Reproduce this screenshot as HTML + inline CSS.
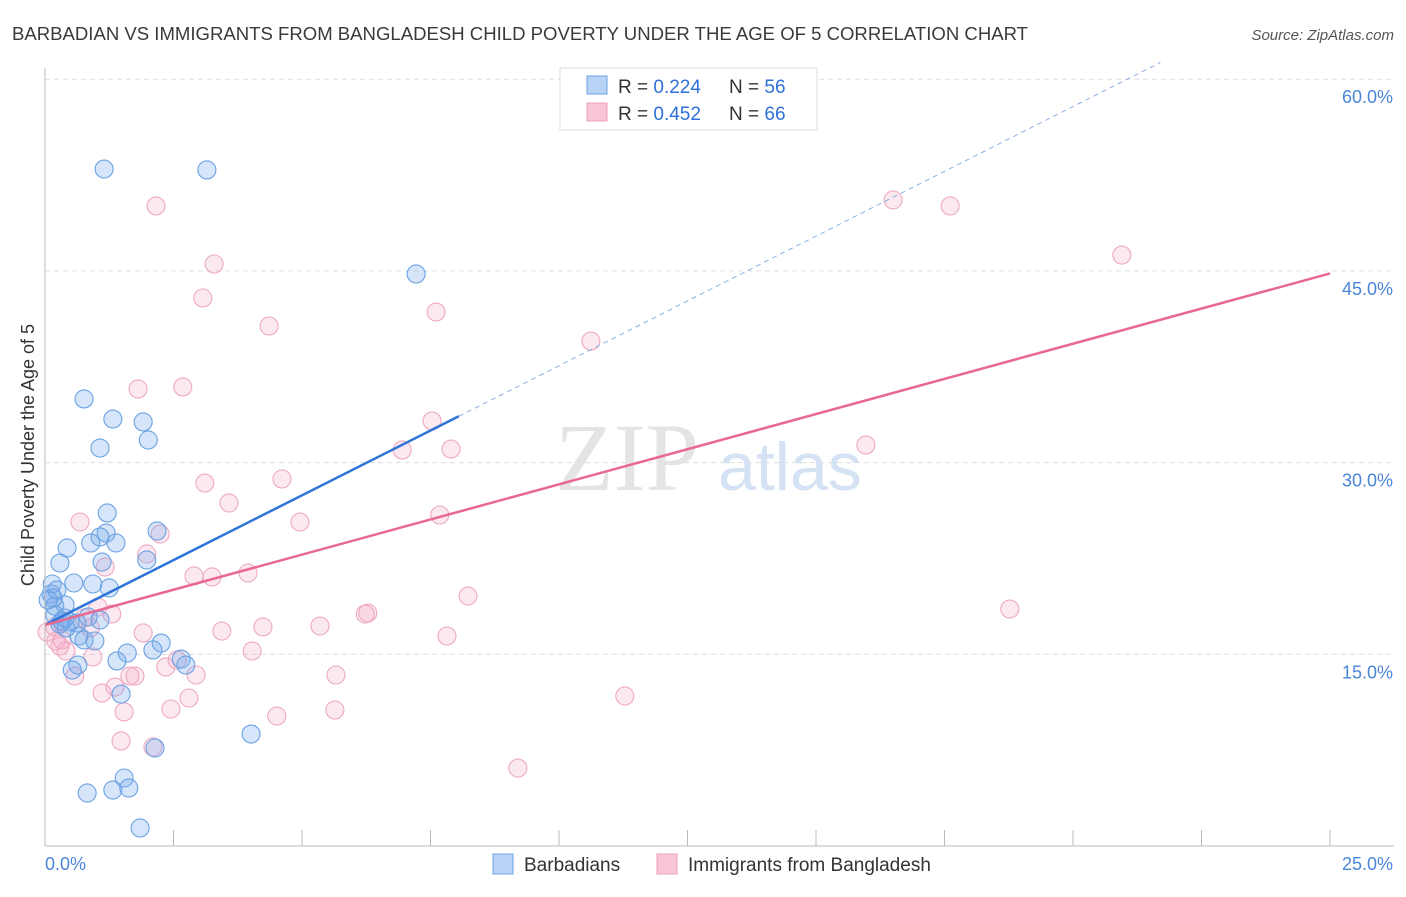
<!DOCTYPE html>
<html><head><meta charset="utf-8"><style>
body{margin:0;background:#fff;font-family:"Liberation Sans",sans-serif;}
</style></head><body>
<svg width="1406" height="892" xmlns="http://www.w3.org/2000/svg">
<text x="12" y="40" font-size="18" fill="#3a3a3a" textLength="1016" lengthAdjust="spacingAndGlyphs">BARBADIAN VS IMMIGRANTS FROM BANGLADESH CHILD POVERTY UNDER THE AGE OF 5 CORRELATION CHART</text>
<text x="1394" y="40" font-size="15" fill="#555" font-style="italic" text-anchor="end">Source: ZipAtlas.com</text>
<g id="grid"></g>
<text x="555" y="490" font-size="96" fill="#e4e4e4" font-family="Liberation Serif,serif">ZIP</text>
<text x="718" y="490" font-size="68" fill="#d4e2f4">atlas</text>
<g id="marks"></g>
<g id="axes"></g>
<text transform="translate(34,455) rotate(-90)" font-size="18" fill="#333" text-anchor="middle">Child Poverty Under the Age of 5</text>
<g>
<rect x="560" y="68" width="257" height="62" fill="#fff" stroke="#ddd"/>
<rect x="587" y="76" width="20" height="18" fill="#b8d3f5" stroke="#6aa3e6"/>
<rect x="587" y="103" width="20" height="18" fill="#f9c6d6" stroke="#eda3bb"/>
<text x="618" y="93" font-size="19" fill="#333">R = <tspan fill="#2f6fd8">0.224</tspan></text>
<text x="729" y="93" font-size="19" fill="#333">N = <tspan fill="#2f6fd8">56</tspan></text>
<text x="618" y="120" font-size="19" fill="#333">R = <tspan fill="#2f6fd8">0.452</tspan></text>
<text x="729" y="120" font-size="19" fill="#333">N = <tspan fill="#2f6fd8">66</tspan></text>
</g>
<g>
<rect x="493" y="854" width="20" height="20" fill="#b8d3f5" stroke="#6aa3e6"/>
<text x="524" y="871" font-size="19" fill="#333">Barbadians</text>
<rect x="657" y="854" width="20" height="20" fill="#f9c6d6" stroke="#eda3bb"/>
<text x="688" y="871" font-size="19" fill="#333">Immigrants from Bangladesh</text>
</g>
</svg>
<script>
const blueX=[1.15,3.15,7.22,0.76,1.32,1.91,2.01,1.07,1.21,2.18,0.43,1.07,1.19,1.38,0.89,0.29,1.98,1.11,0.14,0.56,0.93,1.25,0.12,0.19,0.39,0.16,0.33,0.49,0.84,0.97,0.66,0.76,2.26,2.10,1.60,1.40,2.65,2.74,0.64,0.53,1.48,4.01,2.14,1.54,0.82,1.32,1.63,1.85,0.06,0.19,0.29,0.39,0.62,1.07,0.41,0.23];
const blueY=[52.97,52.9,44.76,34.98,33.41,33.18,31.77,31.14,26.06,24.65,23.32,24.18,24.49,23.71,23.71,22.14,22.38,22.22,20.5,20.58,20.5,20.19,19.72,18.78,18.86,19.41,17.61,17.53,17.92,16.04,16.43,16.12,15.88,15.34,15.1,14.48,14.63,14.16,14.16,13.77,11.89,8.76,7.67,5.32,4.15,4.38,4.54,1.41,19.25,18.08,17.37,17.84,17.45,17.68,17.06,20.03];
const pinkX=[2.16,16.50,17.61,20.95,3.29,3.07,4.36,7.61,10.62,1.81,2.68,7.53,6.95,7.90,15.97,3.11,4.61,3.58,0.68,4.96,7.68,1.98,2.24,1.17,2.90,3.25,3.95,8.23,18.77,1.03,1.30,6.23,6.28,4.24,5.35,3.44,1.91,7.82,0.21,0.29,0.41,0.93,4.03,2.57,2.35,0.58,1.65,1.75,2.94,5.66,1.11,1.36,2.80,2.45,1.54,4.51,5.64,11.28,1.48,2.10,9.20,0.76,0.88,0.19,0.04,0.33];
const pinkY=[50.08,50.55,50.08,46.24,45.54,42.88,40.69,41.78,39.51,35.76,35.92,33.26,30.99,31.06,31.38,28.4,28.72,26.84,25.35,25.35,25.9,22.85,24.41,21.83,21.13,21.05,21.36,19.56,18.54,18.7,18.15,18.15,18.23,17.14,17.21,16.82,16.67,16.43,16.04,15.65,15.26,14.79,15.26,14.55,14.01,13.3,13.3,13.3,13.38,13.38,11.97,12.44,11.58,10.72,10.49,10.17,10.64,11.74,8.22,7.75,6.1,17.84,17.06,17.14,16.74,16.12];
const blueLine=[17.3,68.0];
const pinkLine=[17.3,44.8];
const yTicks=[15,30,45,60];
const xTickLabels=["0.0%","25.0%"];
const NS="http://www.w3.org/2000/svg";
const sx=v=>45+v*51.4, sy=v=>846-v*12.78;
function mk(t,a,p){const e=document.createElementNS(NS,t);for(const k in a)e.setAttribute(k,a[k]);p.appendChild(e);return e;}
const grid=document.getElementById('grid'),axes=document.getElementById('axes'),marks=document.getElementById('marks');
yTicks.forEach(t=>{
 const l=mk('line',{x1:45,x2:1394,y1:sy(t),y2:sy(t),stroke:'#ddd','stroke-dasharray':'5,4'},grid);
 
 
 const tx=mk('text',{x:1393,y:sy(t)+24,'font-size':18,fill:'#4a86d8','text-anchor':'end'},axes);
 tx.textContent=t.toFixed(1)+'%';
 
 
});
mk('line',{x1:45,x2:45,y1:68,y2:846,stroke:'#bbb'},axes);
mk('line',{x1:45,x2:1394,y1:846,y2:846,stroke:'#bbb'},axes);
for(let i=0;i<=10;i++){mk('line',{x1:sx(i*2.5),x2:sx(i*2.5),y1:830,y2:846,stroke:'#bbb'},axes);}
const xl=mk('text',{x:45,y:870,'font-size':18,fill:'#4a86d8'},axes);xl.textContent=xTickLabels[0];


const xr=mk('text',{x:1393,y:870,'font-size':18,fill:'#4a86d8','text-anchor':'end'},axes);xr.textContent=xTickLabels[1];


function pts(X,Y,fill,stroke,name){X.forEach((x,i)=>{const c=mk('circle',{cx:sx(x),cy:sy(Y[i]),r:9,fill:fill,stroke:stroke,'stroke-width':1.1},marks);
 
 });}
pts(pinkX,pinkY,'rgba(245,165,195,0.25)','#eeaac0','point-bangladesh');
pts(blueX,blueY,'rgba(120,170,235,0.3)','#6aa2e4','point-barbadian');
const bl=t=>blueLine[0]+(blueLine[1]-blueLine[0])*t/25;
const l1=mk('line',{x1:sx(0),y1:sy(bl(0)),x2:sx(8.05),y2:sy(bl(8.05)),stroke:'#2f74d8','stroke-width':2.5},marks);


const l2=mk('line',{x1:sx(8.05),y1:sy(bl(8.05)),x2:sx(21.7),y2:sy(bl(21.7)),stroke:'#8ab0e0','stroke-width':1,'stroke-dasharray':'5,4'},marks);


const l3=mk('line',{x1:sx(0),y1:sy(pinkLine[0]),x2:sx(25),y2:sy(pinkLine[1]),stroke:'#e8688f','stroke-width':2.5},marks);


</script>
</body></html>
